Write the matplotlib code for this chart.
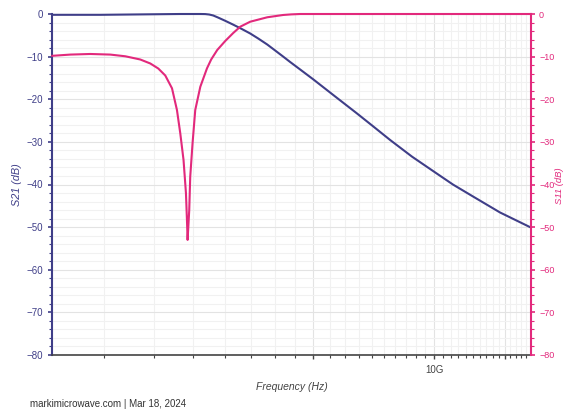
import matplotlib
matplotlib.use("Agg")
import matplotlib.pyplot as plt
import numpy as np
from matplotlib.ticker import FixedLocator, NullFormatter, FixedFormatter

# S21 trace (frequency in GHz, dB)
s21_freq_ghz = [1.115, 1.469, 1.958, 2.326, 2.61, 2.684, 2.747, 2.811, 2.893, 3.012,
                3.153, 3.302, 3.476, 3.640, 3.834, 4.012, 4.201, 4.373, 4.632, 5.0,
                5.66, 6.414, 7.044, 7.768, 8.813, 10.0, 11.15, 12.53, 14.61, 17.45]
s21_db = [-0.19, -0.19, -0.07, 0.0, 0.0, -0.02, -0.12, -0.35, -0.85, -1.6,
          -2.5, -3.45, -4.57, -5.75, -7.16, -8.56, -9.99, -11.26, -13.02, -15.37,
          -19.33, -23.3, -26.35, -29.56, -33.48, -37.0, -40.02, -42.86, -46.57, -50.11]

# S11 trace
s11_freq_ghz = [1.115, 1.237, 1.387, 1.556, 1.696, 1.848, 1.958, 2.050, 2.134, 2.218,
                2.282, 2.326, 2.370, 2.403, 2.417, 2.426, 2.449, 2.463, 2.496, 2.535,
                2.610, 2.712, 2.778, 2.876, 3.012, 3.153, 3.283, 3.476, 3.834, 4.201,
                4.400, 4.632, 17.45]
s11_db = [-9.81, -9.52, -9.38, -9.52, -9.92, -10.67, -11.61, -12.79, -14.43, -17.43,
          -22.52, -27.99, -34.25, -41.99, -48.32, -53.0, -45.98, -38.17, -30.33, -22.52,
          -17.06, -12.74, -10.67, -8.45, -6.33, -4.46, -2.98, -1.81, -0.77, -0.23,
          -0.09, 0.0, 0.0]

x_range_ghz = [1.115, 17.45]
x_major_ghz = [5, 10, 15]
x_major_labels = ["", "10G", ""]
y_ticks = [0, -10, -20, -30, -40, -50, -60, -70, -80]

NAVY = "#3f3e88"
PINK = "#e2297c"
GREY = "#444444"

plt.rcParams["font.family"] = ["Liberation Sans", "DejaVu Sans"]

fig = plt.figure(figsize=(5.64, 4.12), dpi=100)
ax = fig.add_axes([52.3 / 564, 1 - 355 / 412, (531 - 52.3) / 564, (355 - 14) / 412])
ax2 = ax.twinx()

f21 = np.array(s21_freq_ghz) * 1e9
f11 = np.array(s11_freq_ghz) * 1e9

ax.plot(f21, s21_db, color=NAVY, lw=1.5, clip_on=False, zorder=3)
ax2.plot(f11, s11_db, color=PINK, lw=1.5, clip_on=False, zorder=3)

for a in (ax, ax2):
    a.set_xscale("log")
    a.set_xlim(x_range_ghz[0] * 1e9, x_range_ghz[1] * 1e9)
    a.set_ylim(-80, 0)
    a.set_yticks(y_ticks)
    a.set_yticks(np.arange(-80, 1, 2), minor=True)
    a.yaxis.set_minor_formatter(NullFormatter())
    a.spines["top"].set_visible(False)

# x ticks: majors every 5G, minors every 0.5G
minor_ghz = [v for v in np.arange(1.5, 17.5, 0.5) if v not in x_major_ghz]
ax.xaxis.set_major_locator(FixedLocator([v * 1e9 for v in x_major_ghz]))
ax.xaxis.set_major_formatter(FixedFormatter(x_major_labels))
ax.xaxis.set_minor_locator(FixedLocator([v * 1e9 for v in minor_ghz]))
ax.xaxis.set_minor_formatter(NullFormatter())
ax.tick_params(axis="x", which="major", length=3.2, width=1, color=GREY,
               labelsize=7, labelcolor=GREY, pad=4)
ax.tick_params(axis="x", which="minor", length=2.4, width=0.8, color=GREY)

# left axis
ax.tick_params(axis="y", which="major", length=3, width=1.2, color=NAVY,
               labelsize=7, labelcolor=NAVY, pad=3.5)
ax.tick_params(axis="y", which="minor", length=2, width=0.8, color=NAVY)
ax.spines["left"].set_color(NAVY)
ax.spines["left"].set_linewidth(1.5)
ax.spines["bottom"].set_color(GREY)
ax.spines["bottom"].set_linewidth(1.2)
ax.spines["right"].set_visible(False)

# right axis
ax2.tick_params(axis="y", which="major", length=3, width=1.2, color=PINK,
                labelsize=6.5, labelcolor=PINK, pad=2.8)
ax2.tick_params(axis="y", which="minor", length=2, width=0.8, color=PINK)
ax2.spines["right"].set_color(PINK)
ax2.spines["right"].set_linewidth(1.5)
ax2.spines["left"].set_visible(False)
ax2.spines["bottom"].set_visible(False)

# grid
ax.grid(True, which="major", color="#e3e3e3", lw=0.8)
ax.grid(True, which="minor", color="#f1f1f1", lw=0.8)
ax.set_axisbelow(True)

ax.set_xlabel("Frequency (Hz)", fontsize=7.5, style="italic", color=GREY, labelpad=5)
ax.set_ylabel("S21 (dB)", fontsize=7.8, style="italic", color=NAVY, labelpad=3.5)
# right title squeezed against the figure edge, as in the reference
fig.text(559.2 / 564, 1 - 186 / 412, "S11 (dB)", rotation=90, fontsize=6.8,
         style="italic", color=PINK, ha="center", va="center")

fig.text(30 / 564, 1 - 404 / 412, "markimicrowave.com | Mar 18, 2024",
         fontsize=7, color="#333333", ha="left", va="center")

fig.savefig("out.png", dpi=100)
